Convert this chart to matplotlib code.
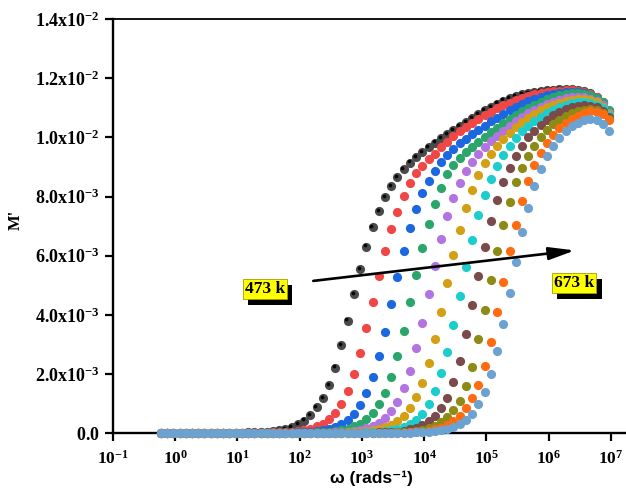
import numpy as np
import matplotlib
matplotlib.use('Agg')
import matplotlib.pyplot as plt
import matplotlib.patheffects as pe
from matplotlib.ticker import FixedLocator, FixedFormatter, NullLocator
from matplotlib.transforms import ScaledTranslation

plt.rcParams['mathtext.fontset'] = 'custom'
plt.rcParams['mathtext.rm'] = 'Liberation Serif:bold'
plt.rcParams['mathtext.it'] = 'Liberation Serif:bold'
plt.rcParams['mathtext.bf'] = 'Liberation Serif:bold'

# angular frequency (rad/s), 10 points per decade
omega = [
    0.5888, 0.7413, 0.9333, 1.175, 1.479, 1.862, 2.344, 2.951, 3.715, 4.677,
    5.888, 7.413, 9.333, 11.75, 14.79, 18.62, 23.44, 29.51, 37.15, 46.77,
    58.88, 74.13, 93.33, 117.5, 147.9, 186.2, 234.4, 295.1, 371.5, 467.7,
    588.8, 741.3, 933.3, 1175, 1479, 1862, 2344, 2951, 3715, 4677,
    5888, 7413, 9333, 1.175e4, 1.479e4, 1.862e4, 2.344e4, 2.951e4, 3.715e4, 4.677e4,
    5.888e4, 7.413e4, 9.333e4, 1.175e5, 1.479e5, 1.862e5, 2.344e5, 2.951e5, 3.715e5, 4.677e5,
    5.888e5, 7.413e5, 9.333e5, 1.175e6, 1.479e6, 1.862e6, 2.344e6, 2.951e6, 3.715e6, 4.677e6,
    5.888e6, 7.413e6, 9.333e6,
]

# M' in units of 1e-3, one list per temperature
m_473 = [
    0, 0, 0, 0, 0, 0, 0.01, 0.01, 0.01, 0.01,
    0.01, 0.01, 0.02, 0.02, 0.03, 0.03, 0.04, 0.05, 0.07, 0.10,
    0.15, 0.21, 0.30, 0.43, 0.62, 0.88, 1.20, 1.62, 2.22, 2.98,
    3.81, 4.70, 5.55, 6.31, 6.97, 7.52, 7.97, 8.35, 8.66, 8.93,
    9.15, 9.33, 9.50, 9.66, 9.82, 9.97, 10.11, 10.25, 10.39, 10.52,
    10.65, 10.78, 10.91, 11.03, 11.14, 11.24, 11.32, 11.39, 11.45, 11.50,
    11.54, 11.57, 11.59, 11.61, 11.62, 11.62, 11.62, 11.60, 11.56, 11.49,
    11.38, 11.18, 10.88,
]
m_493 = [
    0, 0, 0, 0, 0, 0, 0, 0, 0, 0,
    0, 0, 0.01, 0.01, 0.01, 0.01, 0.02, 0.02, 0.03, 0.03,
    0.04, 0.06, 0.08, 0.11, 0.16, 0.23, 0.33, 0.47, 0.68, 0.99,
    1.44, 2.00, 2.70, 3.55, 4.45, 5.32, 6.17, 6.90, 7.49, 8.03,
    8.45, 8.79, 9.04, 9.27, 9.45, 9.66, 9.85, 10.03, 10.20, 10.35,
    10.49, 10.62, 10.75, 10.87, 10.98, 11.08, 11.17, 11.26, 11.34, 11.41,
    11.47, 11.51, 11.54, 11.57, 11.58, 11.59, 11.59, 11.57, 11.53, 11.46,
    11.36, 11.18, 10.90,
]
m_513 = [
    0, 0, 0, 0, 0, 0, 0, 0, 0, 0,
    0, 0, 0, 0, 0, 0.01, 0.01, 0.01, 0.01, 0.01,
    0.02, 0.02, 0.03, 0.04, 0.05, 0.07, 0.10, 0.15, 0.22, 0.32,
    0.46, 0.66, 0.96, 1.37, 1.91, 2.61, 3.44, 4.36, 5.28, 6.17,
    6.93, 7.57, 8.12, 8.53, 8.87, 9.16, 9.40, 9.62, 9.80, 9.96,
    10.11, 10.26, 10.40, 10.54, 10.67, 10.80, 10.92, 11.03, 11.13, 11.22,
    11.30, 11.37, 11.43, 11.48, 11.51, 11.53, 11.54, 11.53, 11.50, 11.44,
    11.34, 11.16, 10.88,
]
m_533 = [
    0, 0, 0, 0, 0, 0, 0, 0, 0, 0,
    0, 0, 0, 0, 0, 0, 0, 0, 0.01, 0.01,
    0.01, 0.01, 0.01, 0.02, 0.02, 0.03, 0.04, 0.06, 0.08, 0.11,
    0.16, 0.23, 0.33, 0.47, 0.68, 0.98, 1.37, 1.91, 2.61, 3.47,
    4.42, 5.36, 6.26, 7.08, 7.75, 8.30, 8.75, 9.05, 9.30, 9.50,
    9.68, 9.85, 10.01, 10.17, 10.32, 10.47, 10.61, 10.75, 10.88, 11.00,
    11.11, 11.21, 11.30, 11.38, 11.44, 11.48, 11.50, 11.50, 11.48, 11.43,
    11.34, 11.18, 10.92,
]
m_553 = [
    0, 0, 0, 0, 0, 0, 0, 0, 0, 0,
    0, 0, 0, 0, 0, 0, 0, 0, 0, 0,
    0, 0, 0, 0.01, 0.01, 0.01, 0.02, 0.02, 0.03, 0.04,
    0.06, 0.08, 0.12, 0.17, 0.24, 0.35, 0.51, 0.74, 1.07, 1.52,
    2.12, 2.87, 3.74, 4.71, 5.66, 6.56, 7.33, 7.95, 8.45, 8.85,
    9.18, 9.45, 9.68, 9.88, 10.06, 10.23, 10.39, 10.54, 10.68, 10.81,
    10.93, 11.04, 11.13, 11.21, 11.27, 11.32, 11.35, 11.36, 11.35, 11.31,
    11.23, 11.08, 10.84,
]
m_573 = [
    0, 0, 0, 0, 0, 0, 0, 0, 0, 0,
    0, 0, 0, 0, 0, 0, 0, 0, 0, 0,
    0, 0, 0, 0, 0, 0.01, 0.01, 0.01, 0.02, 0.02,
    0.03, 0.04, 0.05, 0.07, 0.10, 0.14, 0.20, 0.29, 0.42, 0.60,
    0.86, 1.22, 1.71, 2.37, 3.18, 4.09, 5.09, 6.03, 6.88, 7.61,
    8.23, 8.72, 9.12, 9.44, 9.71, 9.95, 10.16, 10.35, 10.52, 10.67,
    10.80, 10.92, 11.02, 11.10, 11.17, 11.22, 11.26, 11.28, 11.28, 11.25,
    11.18, 11.04, 10.80,
]
m_593 = [
    0, 0, 0, 0, 0, 0, 0, 0, 0, 0,
    0, 0, 0, 0, 0, 0, 0, 0, 0, 0,
    0, 0, 0, 0, 0, 0, 0, 0, 0.01, 0.01,
    0.01, 0.02, 0.02, 0.03, 0.04, 0.05, 0.07, 0.10, 0.15, 0.21,
    0.31, 0.45, 0.66, 0.99, 1.44, 2.03, 2.76, 3.66, 4.64, 5.61,
    6.52, 7.36, 8.05, 8.60, 9.04, 9.41, 9.72, 9.98, 10.20, 10.39,
    10.56, 10.70, 10.83, 10.94, 11.03, 11.10, 11.15, 11.18, 11.19, 11.17,
    11.11, 10.98, 10.76,
]
m_613 = [
    0, 0, 0, 0, 0, 0, 0, 0, 0, 0,
    0, 0, 0, 0, 0, 0, 0, 0, 0, 0,
    0, 0, 0, 0, 0, 0, 0, 0, 0, 0,
    0.01, 0.01, 0.01, 0.02, 0.02, 0.03, 0.04, 0.05, 0.06, 0.09,
    0.13, 0.19, 0.27, 0.40, 0.58, 0.85, 1.20, 1.73, 2.45, 3.36,
    4.34, 5.33, 6.31, 7.18, 7.89, 8.49, 8.98, 9.38, 9.72, 10.00,
    10.23, 10.43, 10.60, 10.74, 10.86, 10.95, 11.02, 11.06, 11.08, 11.07,
    11.02, 10.90, 10.70,
]
m_633 = [
    0, 0, 0, 0, 0, 0, 0, 0, 0, 0,
    0, 0, 0, 0, 0, 0, 0, 0, 0, 0,
    0, 0, 0, 0, 0, 0, 0, 0, 0, 0,
    0, 0, 0, 0.01, 0.01, 0.01, 0.02, 0.02, 0.03, 0.04,
    0.06, 0.08, 0.12, 0.18, 0.26, 0.38, 0.55, 0.80, 1.10, 1.60,
    2.25, 3.18, 4.17, 5.18, 6.17, 7.04, 7.80, 8.48, 8.96, 9.38,
    9.72, 10.00, 10.24, 10.44, 10.60, 10.73, 10.83, 10.90, 10.94, 10.95,
    10.92, 10.82, 10.63,
]
m_653 = [
    0, 0, 0, 0, 0, 0, 0, 0, 0, 0,
    0, 0, 0, 0, 0, 0, 0, 0, 0, 0,
    0, 0, 0, 0, 0, 0, 0, 0, 0, 0,
    0, 0, 0, 0, 0, 0.01, 0.01, 0.01, 0.02, 0.02,
    0.03, 0.04, 0.06, 0.09, 0.13, 0.19, 0.28, 0.40, 0.58, 0.84,
    1.18, 1.63, 2.28, 3.10, 4.11, 5.12, 6.17, 7.04, 7.85, 8.52,
    9.05, 9.47, 9.80, 10.08, 10.30, 10.48, 10.62, 10.73, 10.83, 10.88,
    10.87, 10.78, 10.58,
]
m_673 = [
    0, 0, 0, 0, 0, 0, 0, 0, 0, 0,
    0, 0, 0, 0, 0, 0, 0, 0, 0, 0,
    0, 0, 0, 0, 0, 0, 0, 0, 0, 0,
    0, 0, 0, 0, 0, 0, 0, 0.01, 0.01, 0.02,
    0.02, 0.03, 0.04, 0.06, 0.08, 0.11, 0.15, 0.22, 0.31, 0.45,
    0.66, 0.98, 1.41, 2.01, 2.77, 3.70, 4.75, 5.80, 6.80, 7.63,
    8.34, 8.92, 9.36, 9.70, 9.98, 10.20, 10.37, 10.50, 10.58, 10.62,
    10.60, 10.46, 10.20,
]

series = [m_473, m_493, m_513, m_533, m_553, m_573, m_593, m_613, m_633, m_653, m_673]
colors = ['#4a4a4a', '#f04646', '#1b67df', '#2ba66b', '#b274e0', '#d3a014',
          '#1dcdcd', '#7b4a4a', '#8b8b15', '#ff6b10', '#6ba2d2']

xtick_vals = [1e-1, 1e0, 1e1, 1e2, 1e3, 1e4, 1e5, 1e6, 1e7]
xtick_labels = [r'$\mathrm{10^{-1}}$', r'$\mathrm{10^{0}}$', r'$\mathrm{10^{1}}$',
                r'$\mathrm{10^{2}}$', r'$\mathrm{10^{3}}$', r'$\mathrm{10^{4}}$',
                r'$\mathrm{10^{5}}$', r'$\mathrm{10^{6}}$', r'$\mathrm{10^{7}}$']
ytick_vals = [0, 0.002, 0.004, 0.006, 0.008, 0.010, 0.012, 0.014]
ytick_labels = [r'$\mathrm{0.0}$', r'$\mathrm{2.0x10^{-3}}$', r'$\mathrm{4.0x10^{-3}}$',
                r'$\mathrm{6.0x10^{-3}}$', r'$\mathrm{8.0x10^{-3}}$', r'$\mathrm{1.0x10^{-2}}$',
                r'$\mathrm{1.2x10^{-2}}$', r'$\mathrm{1.4x10^{-2}}$']

fig = plt.figure(figsize=(6.26, 4.92), dpi=100)
ax = fig.add_axes([0.1805, 0.1193, 0.829, 0.8421])

w = np.array(omega)
for i, (vals, c) in enumerate(zip(series, colors)):
    m = np.array(vals) * 1e-3
    ax.plot(w, m, 'o', ms=6.6, mfc=c, mec='none', clip_on=False, zorder=3)
    if i == 0:
        # darker core on the 473 K points, nudged up-left
        shift = ax.transData + ScaledTranslation(-0.9 / 72, 0.9 / 72, fig.dpi_scale_trans)
        ax.plot(w, m, 'o', ms=2.7, mfc='#050505', mec='none', clip_on=False,
                zorder=3, transform=shift)

ax.set_xscale('log')
ax.set_xlim(1e-1, 10 ** 7.337)
ax.set_ylim(0, 0.014)
ax.xaxis.set_major_locator(FixedLocator(xtick_vals))
ax.xaxis.set_major_formatter(FixedFormatter(xtick_labels))
ax.xaxis.set_minor_locator(NullLocator())
ax.yaxis.set_major_locator(FixedLocator(ytick_vals))
ax.yaxis.set_major_formatter(FixedFormatter(ytick_labels))

ax.tick_params(axis='x', direction='out', length=6, width=1.6, pad=5.5, labelsize=12.5)
ax.tick_params(axis='y', direction='out', length=5.5, width=1.6, pad=4, labelsize=13)
ax.spines['right'].set_visible(False)
ax.spines['top'].set_linewidth(1.3)
ax.spines['left'].set_linewidth(1.7)
ax.spines['bottom'].set_linewidth(1.7)
for s in ax.spines.values():
    s.set_zorder(2.5)

fig.text(16 / 626, 1 - 220 / 492, "M'", rotation=90, fontsize=12,
         family='Liberation Serif', weight='bold', ha='center', va='center')
fig.text(371 / 626, 1 - 478 / 492, 'ω (rads⁻¹)', fontsize=12.5,
         family=['Liberation Sans', 'DejaVu Sans'], weight='bold',
         ha='center', va='center')

# temperature trend arrow
ax.annotate('', xy=(2.63e6, 6.18e-3), xytext=(165, 5.15e-3),
            arrowprops=dict(arrowstyle='-|>,head_length=0.78,head_width=0.19',
                            mutation_scale=20, lw=1.9, color='black',
                            shrinkA=0, shrinkB=0),
            zorder=6)


def tag(x, y, label):
    t = ax.text(x, y, label, fontsize=12.5, family='Liberation Serif', weight='bold',
                ha='center', va='center', color='black', zorder=7,
                bbox=dict(boxstyle='square,pad=0.12', fc='#ffff00', ec='#a0a000', lw=0.6))
    # solid drop shadow under the yellow box
    t.get_bbox_patch().set_path_effects([
        pe.SimplePatchShadow(offset=(3.8, -4.3), shadow_rgbFace='black', alpha=1.0),
        pe.Normal(),
    ])


tag(27.5, 4.88e-3, '473 k')
tag(2.57e6, 5.07e-3, '673 k')

fig.savefig('out.png', dpi=100)
